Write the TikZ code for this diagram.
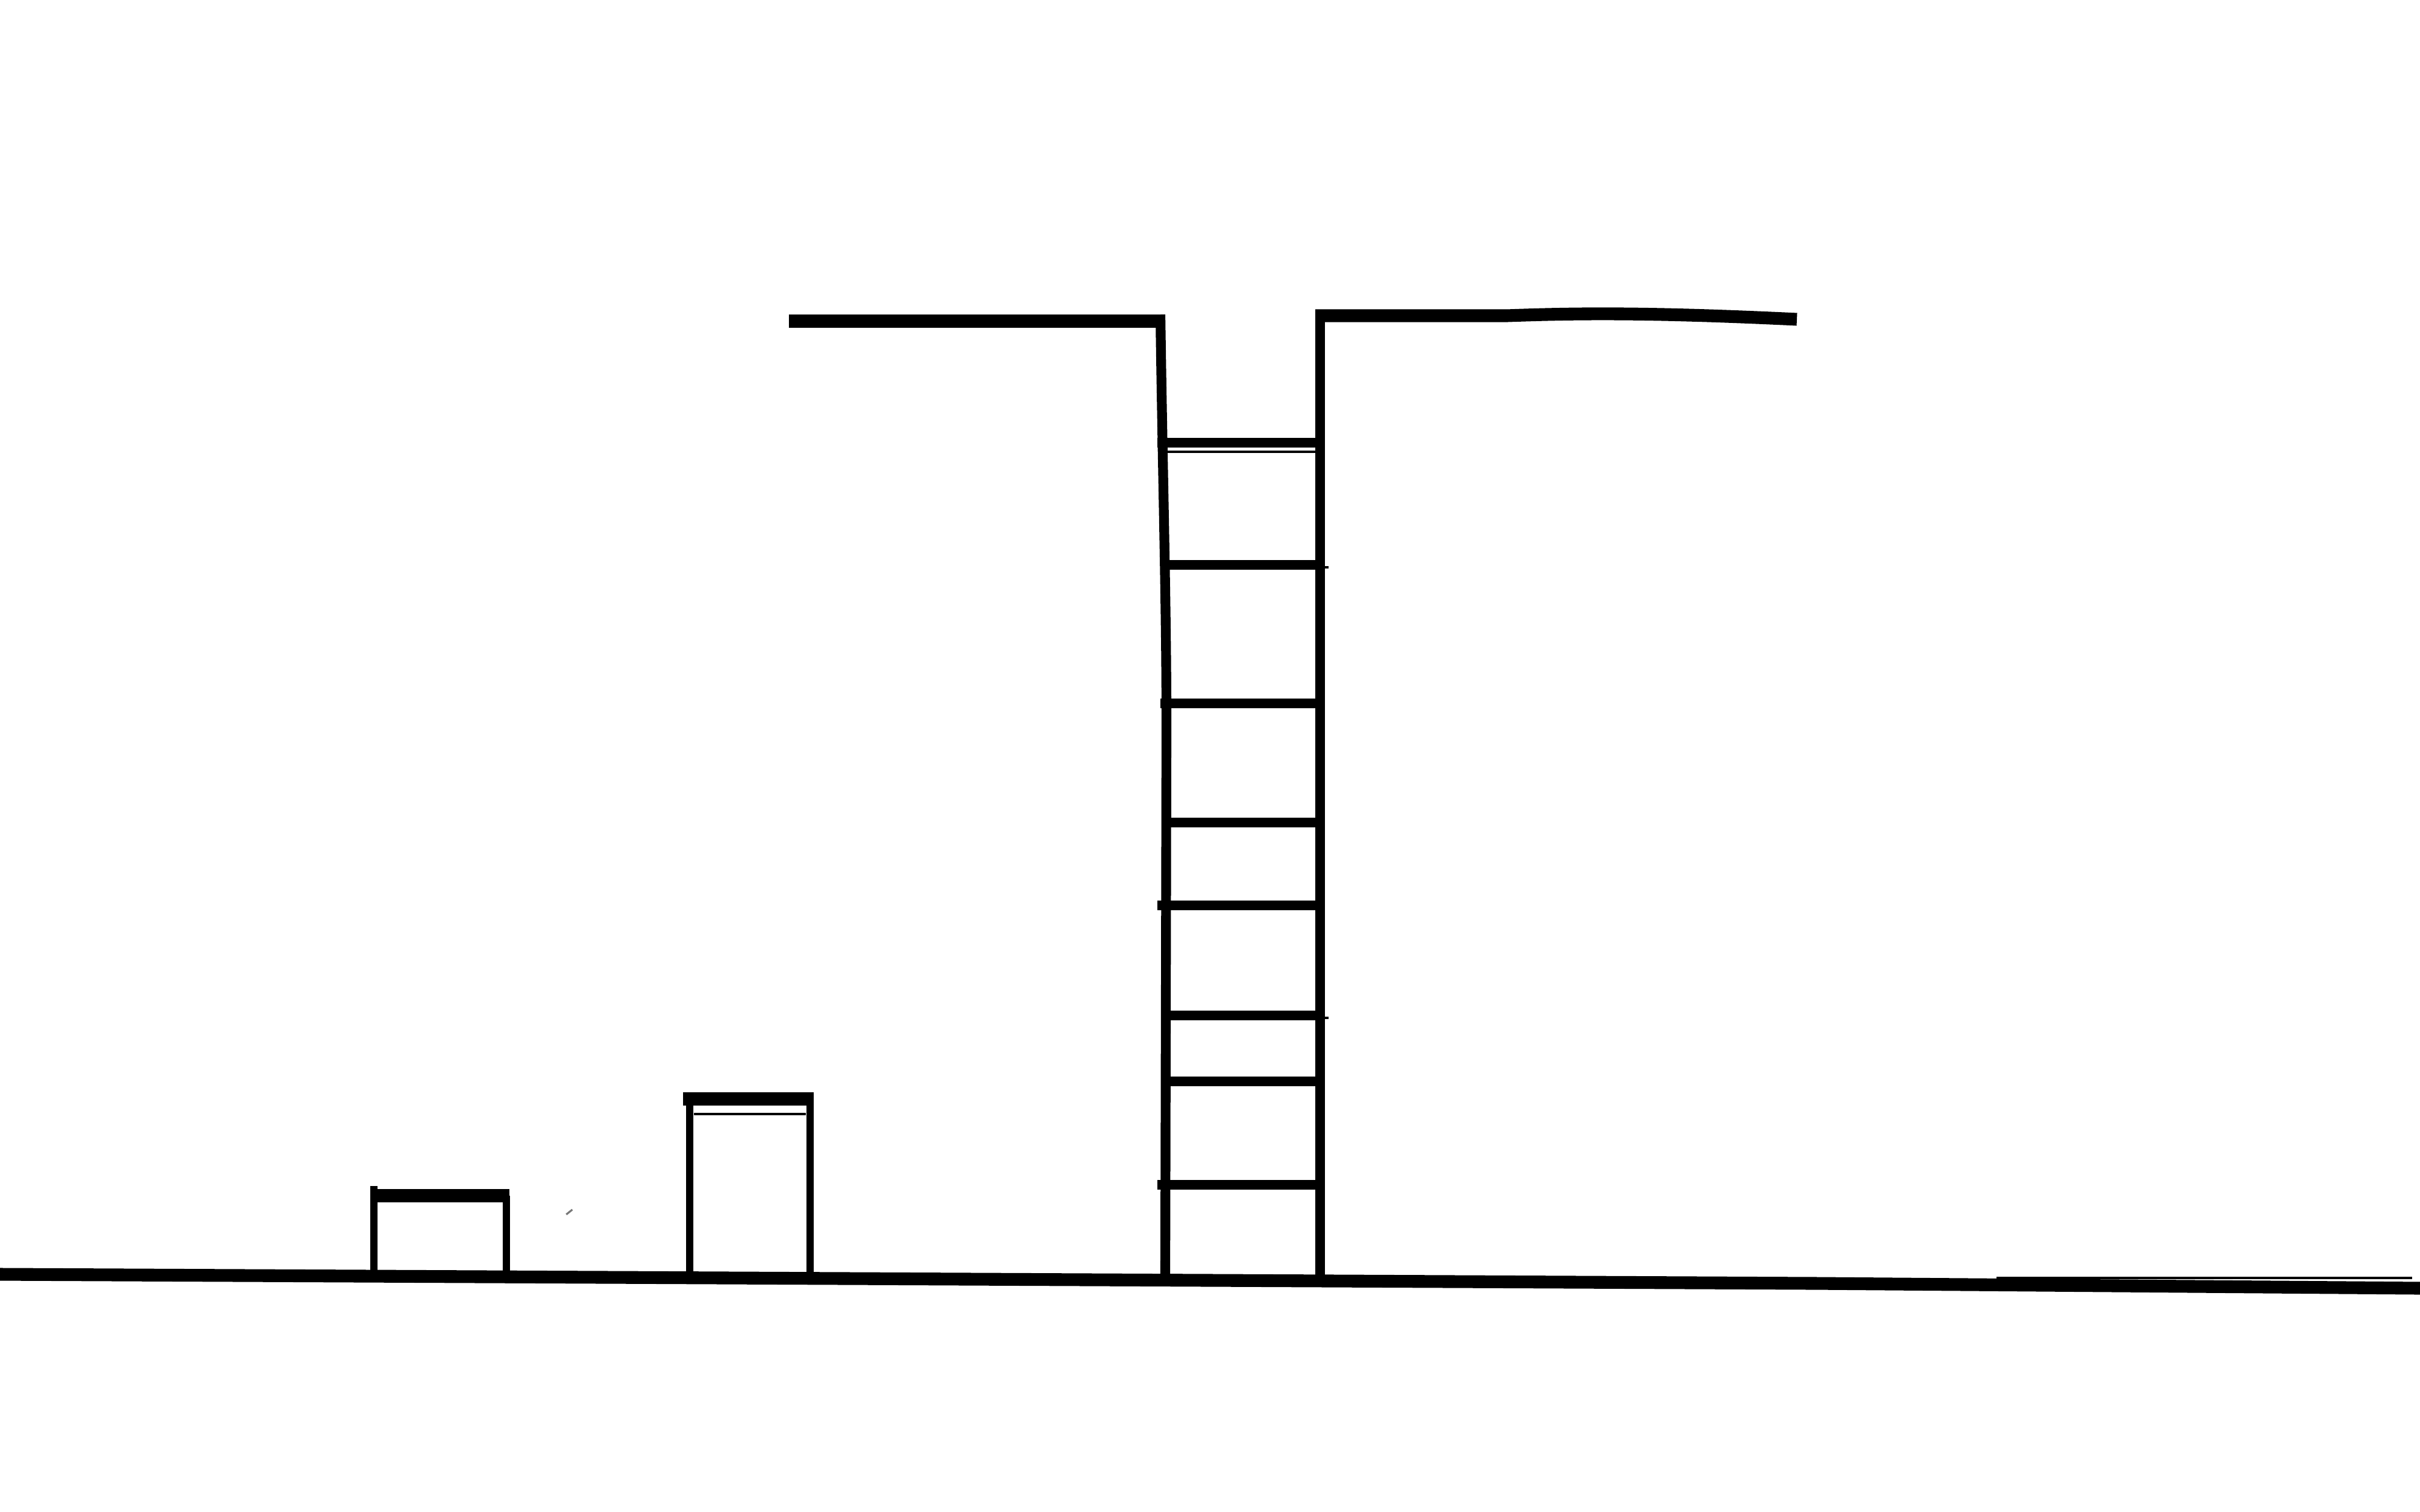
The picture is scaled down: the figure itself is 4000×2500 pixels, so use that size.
\documentclass[tikz,border=0pt]{standalone}
\usepackage{tikz}
\usetikzlibrary{calc}
\definecolor{inkblack}{RGB}{0, 0, 0}
\definecolor{pencilgray}{RGB}{120, 120, 120}
\tikzset{
  groundline/.style={line width=6pt, inkblack},
  roofbar/.style={line width=6pt, inkblack},
  wallline/.style={line width=4.6pt, inkblack},
  rungline/.style={line width=4.6pt, inkblack},
  postline/.style={line width=3.4pt, inkblack},
  hairline/.style={line width=1pt, inkblack}
}

\begin{document}
\begin{tikzpicture}[x=0.01cm, y=-0.01cm]
    \useasboundingbox (0, 0) rectangle (4000, 2500);

    % Ground
    \draw[groundline] (0, 2107) -- (3000, 2122) -- (4000, 2130);
    \draw[hairline] (3300, 2113) -- (3987, 2113);

    % Small box
    \draw[postline] (618, 1961) -- (618, 2107);
    \draw[postline] (837, 1977) -- (837, 2110);
    \draw[roofbar] (615, 1977) -- (842, 1977);

    % Taller box
    \draw[postline] (1140, 1807) -- (1140, 2112);
    \draw[postline] (1339, 1817) -- (1339, 2113);
    \draw[roofbar] (1129, 1817) -- (1345, 1817);
    \draw[hairline] (1147, 1842) -- (1332, 1842);

    % Stray pencil mark
    \draw[pencilgray, line width=0.9pt] (936, 2008) -- (946, 2000);

    % Tower: top bars
    \draw[roofbar] (1304, 531) -- (1926, 531);
    \draw[roofbar] (2174, 522) -- (2491, 522) .. controls (2600, 518) and (2720, 516) .. (2970, 528);

    % Tower: walls
    \draw[wallline] (1918, 520) .. controls (1922, 800) and (1928, 1000) .. (1928, 1200) -- (1926, 2112);
    \draw[wallline] (2182, 512) -- (2182, 2117);

    % Rungs (y / left end)
    \foreach \ry/\rx in {732/1913, 934/1928, 1163/1918, 1360/1930, 1497/1913, 1679/1920, 1788/1922, 1959/1913}
      \draw[rungline] (\rx, \ry) -- (2182, \ry);
    \draw[hairline] (1928, 747) -- (2175, 747);
    \draw[hairline] (2189, 938) -- (2196, 938);
    \draw[hairline] (2189, 1683) -- (2196, 1683);
\end{tikzpicture}
\end{document}
